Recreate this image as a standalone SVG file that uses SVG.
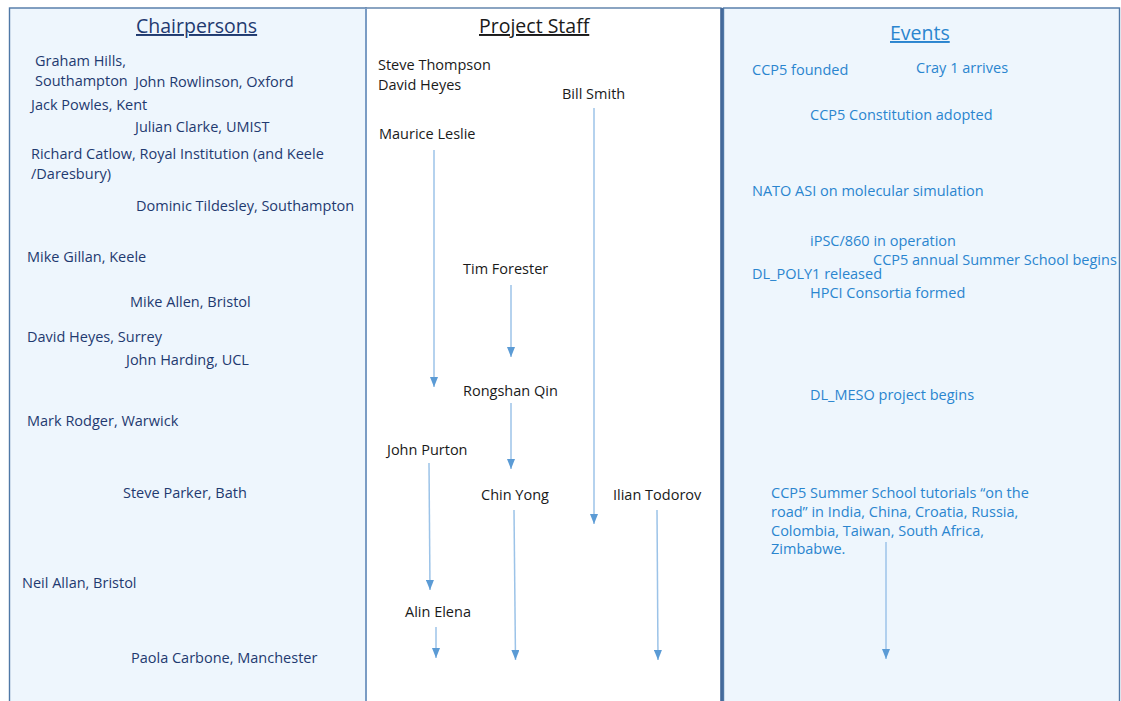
<svg xmlns="http://www.w3.org/2000/svg" width="1121" height="701" viewBox="0 0 1121 701">
  <style>
    text { font-family: "Open Sans", "Noto Sans", "Liberation Sans", sans-serif; font-size: 14.5px; }
    .head { font-size: 19.5px; text-decoration: underline; }
    .chair { fill: #1f3a70; }
    .staff { fill: #1a1a1a; }
    .event { fill: #2a85cf; }
    .panel-side { fill: #eef6fd; stroke: #4f78a6; stroke-width: 1.4; }
    .panel-mid { fill: #ffffff; stroke: #5a7ea8; stroke-width: 1.4; }
    .link { stroke: #9cc3e8; stroke-width: 1.5; fill: none; marker-end: url(#tip); }
  </style>
  <defs>
    <marker id="tip" viewBox="0 0 10 8" refX="10" refY="4" markerWidth="10" markerHeight="8" markerUnits="userSpaceOnUse" orient="auto">
      <path d="M0,0 L10,4 L0,8 Z" fill="#5b9bd5"/>
    </marker>
  </defs>

  <rect width="1121" height="701" fill="#ffffff"/>

  <!-- three column panels -->
  <g id="panels">
    <rect class="panel-side" x="9.5" y="8" width="356.5" height="700"/>
    <rect class="panel-mid" x="366" y="8" width="355" height="700"/>
    <line x1="366" y1="8" x2="366" y2="701" stroke="#7a9cc4" stroke-width="2"/>
    <line x1="722" y1="8" x2="722" y2="701" stroke="#44699a" stroke-width="3"/>
    <rect class="panel-side" x="723.5" y="8" width="396" height="700"/>
  </g>

  <!-- column headings -->
  <g id="headings">
    <text class="head chair" x="136" y="33">Chairpersons</text>
    <text class="head staff" x="479" y="33">Project Staff</text>
    <text class="head event" x="890" y="40">Events</text>
  </g>

  <!-- chairpersons column -->
  <g id="chairpersons" class="chair">
    <text class="chair" x="35" y="66">Graham Hills,</text>
    <text class="chair" x="35" y="86">Southampton</text>
    <text class="chair" x="135" y="87">John Rowlinson, Oxford</text>
    <text class="chair" x="31" y="110">Jack Powles, Kent</text>
    <text class="chair" x="135" y="132">Julian Clarke, UMIST</text>
    <text class="chair" x="31" y="159">Richard Catlow, Royal Institution (and Keele</text>
    <text class="chair" x="31" y="179">/Daresbury)</text>
    <text class="chair" x="136" y="211">Dominic Tildesley, Southampton</text>
    <text class="chair" x="27" y="262">Mike Gillan, Keele</text>
    <text class="chair" x="130" y="307">Mike Allen, Bristol</text>
    <text class="chair" x="27" y="342">David Heyes, Surrey</text>
    <text class="chair" x="126" y="365">John Harding, UCL</text>
    <text class="chair" x="27" y="426">Mark Rodger, Warwick</text>
    <text class="chair" x="123" y="498">Steve Parker, Bath</text>
    <text class="chair" x="22" y="588">Neil Allan, Bristol</text>
    <text class="chair" x="131" y="663">Paola Carbone, Manchester</text>
  </g>

  <!-- project staff column -->
  <g id="staff-thompson"><text class="staff" x="378" y="70">Steve Thompson</text></g>
  <g id="staff-heyes"><text class="staff" x="378" y="90">David Heyes</text></g>
  <g id="staff-smith"><text class="staff" x="562" y="99">Bill Smith</text></g>
  <g id="staff-leslie"><text class="staff" x="379" y="139">Maurice Leslie</text></g>
  <g id="staff-forester"><text class="staff" x="463" y="274">Tim Forester</text></g>
  <g id="staff-qin"><text class="staff" x="463" y="396">Rongshan Qin</text></g>
  <g id="staff-purton"><text class="staff" x="387" y="455">John Purton</text></g>
  <g id="staff-yong"><text class="staff" x="481" y="500">Chin Yong</text></g>
  <g id="staff-todorov"><text class="staff" x="613" y="500">Ilian Todorov</text></g>
  <g id="staff-elena"><text class="staff" x="405" y="617">Alin Elena</text></g>

  <!-- events column -->
  <g id="events">
    <text class="event" x="752" y="75">CCP5 founded</text>
    <text class="event" x="916" y="73">Cray 1 arrives</text>
    <text class="event" x="810" y="120">CCP5 Constitution adopted</text>
    <text class="event" x="752" y="196">NATO ASI on molecular simulation</text>
    <text class="event" x="810" y="246">iPSC/860 in operation</text>
    <text class="event" x="873" y="265">CCP5 annual Summer School begins</text>
    <text class="event" x="752" y="279">DL_POLY1 released</text>
    <text class="event" x="810" y="298">HPCI Consortia formed</text>
    <text class="event" x="810" y="400">DL_MESO project begins</text>
  </g>
  <g id="event-tutorials">
    <text class="event" x="771" y="498">CCP5 Summer School tutorials “on the</text>
    <text class="event" x="771" y="517">road” in India, China, Croatia, Russia,</text>
    <text class="event" x="771" y="536">Colombia, Taiwan, South Africa,</text>
    <text class="event" x="771" y="554">Zimbabwe.</text>
  </g>

  <!-- tenure arrows -->
  <g id="connectors">
    <line class="link" x1="434" y1="150" x2="434" y2="387"/>
    <line class="link" x1="594" y1="108" x2="594" y2="524"/>
    <line class="link" x1="511" y1="285" x2="511" y2="357"/>
    <line class="link" x1="511" y1="403" x2="511" y2="469"/>
    <line class="link" x1="429" y1="463" x2="430" y2="590"/>
    <line class="link" x1="514" y1="510" x2="515.5" y2="660"/>
    <line class="link" x1="657" y1="510" x2="658" y2="660"/>
    <line class="link" x1="436" y1="627" x2="436" y2="658"/>
    <line class="link" x1="886" y1="542" x2="886" y2="659"/>
  </g>
</svg>
